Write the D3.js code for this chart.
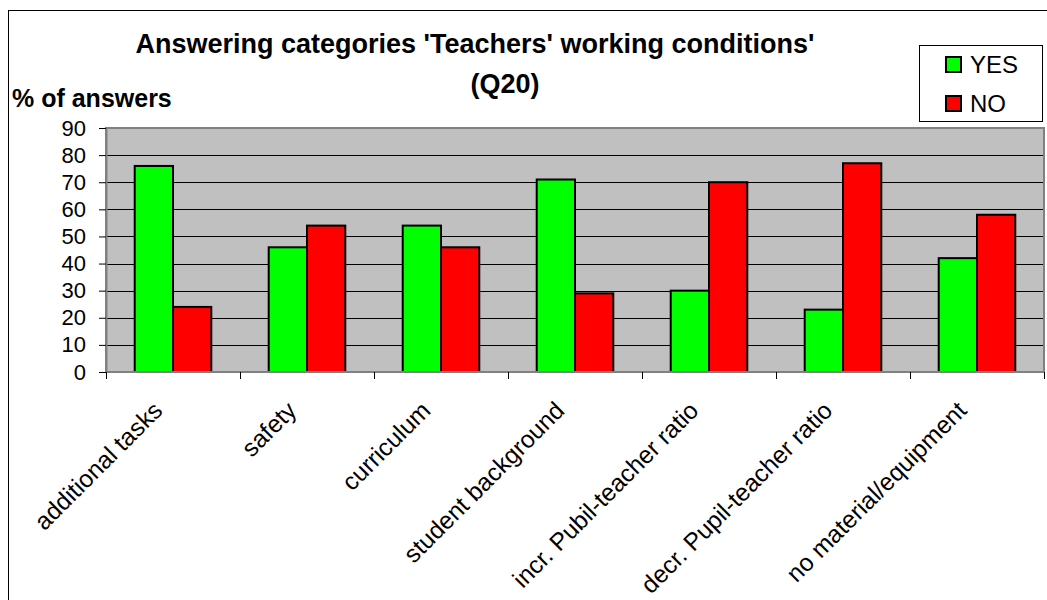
<!DOCTYPE html>
<html>
<head>
<meta charset="utf-8">
<script src="https://cdn.jsdelivr.net/npm/d3@7"></script>
<style>
  html, body { margin: 0; padding: 0; background: #fff; }
  svg { display: block; font-family: Arial, "Liberation Sans", sans-serif; }
</style>
</head>
<body>
<svg id="chart" width="1047" height="600"></svg>
<script>
// Answer categories on the x axis
const categories = [
  "additional tasks",
  "safety",
  "curriculum",
  "student background",
  "incr. Pubil-teacher ratio",
  "decr. Pupil-teacher ratio",
  "no material/equipment"
];
// Percentage of answers per category
const yesValues = [76, 46, 54, 71, 30, 23, 42];
const noValues  = [24, 54, 46, 29, 70, 77, 58];
const seriesNames = ["YES", "NO"];
const yTicks = [0, 10, 20, 30, 40, 50, 60, 70, 80, 90];

const svg = d3.select("#chart");
const W = 1047, H = 600;
const plot = { left: 106, right: 1044, top: 128, bottom: 372 };

// Outer chart frame (runs off the right and bottom edges)
svg.append("rect")
  .attr("x", 8.5).attr("y", 10.5)
  .attr("width", W + 20).attr("height", H + 20)
  .attr("fill", "#fff").attr("stroke", "#000").attr("stroke-width", 1);

const x0 = d3.scaleBand().domain(categories).range([plot.left, plot.right]).paddingInner(0).paddingOuter(0);
const x1 = d3.scaleBand().domain(seriesNames).range([0, x0.bandwidth()]).paddingInner(0).paddingOuter(0.75);
const y = d3.scaleLinear().domain([0, 90]).range([plot.bottom, plot.top]);
const color = d3.scaleOrdinal().domain(seriesNames).range(["#00ff00", "#ff0000"]);

// Plot background
svg.append("rect")
  .attr("x", plot.left).attr("y", plot.top)
  .attr("width", plot.right - plot.left).attr("height", plot.bottom - plot.top)
  .attr("fill", "#c0c0c0");

// Horizontal gridlines
svg.append("g").selectAll("line")
  .data(yTicks.filter(t => t > 0 && t < 90))
  .join("line")
  .attr("x1", plot.left).attr("x2", plot.right)
  .attr("y1", d => Math.round(y(d)) + 0.5).attr("y2", d => Math.round(y(d)) + 0.5)
  .attr("stroke", "#000").attr("stroke-width", 1);

// Plot border
svg.append("rect")
  .attr("x", plot.left).attr("y", plot.top)
  .attr("width", plot.right - plot.left).attr("height", plot.bottom - plot.top)
  .attr("fill", "none").attr("stroke", "#808080").attr("stroke-width", 2);

// Bars
const rows = categories.map((c, i) => ({ cat: c, values: [
  { key: "YES", value: yesValues[i] },
  { key: "NO", value: noValues[i] }
]}));

const groups = svg.append("g").selectAll("g")
  .data(rows).join("g")
  .attr("transform", d => `translate(${x0(d.cat)},0)`);

groups.selectAll("rect")
  .data(d => d.values).join("rect")
  .attr("x", d => x1(d.key))
  .attr("y", d => y(d.value))
  .attr("width", x1.bandwidth())
  .attr("height", d => y(0) - y(d.value))
  .attr("fill", d => color(d.key))
  .attr("stroke", "#000").attr("stroke-width", 2);

// Y axis
const yAxis = svg.append("g")
  .attr("transform", `translate(${plot.left},0)`)
  .call(d3.axisLeft(y).tickValues(yTicks).tickSize(7).tickPadding(13).tickSizeOuter(0));
yAxis.select(".domain").attr("stroke", "#808080").attr("stroke-width", 2);
yAxis.selectAll(".tick line").attr("stroke", "#000");
yAxis.selectAll(".tick text")
  .attr("font-size", 22).attr("fill", "#000")
  .attr("font-family", "Arial, 'Liberation Sans', sans-serif");

// X axis: ticks at category boundaries
const xAxisG = svg.append("g").attr("transform", `translate(0,${plot.bottom})`);
xAxisG.append("line")
  .attr("x1", plot.left).attr("x2", plot.right)
  .attr("stroke", "#808080").attr("stroke-width", 2);
const boundaries = categories.map(c => x0(c)).concat([x0(categories[categories.length - 1]) + x0.bandwidth()]);
xAxisG.selectAll("line.tk").data(boundaries).join("line")
  .attr("class", "tk")
  .attr("x1", d => Math.round(d) + 0.5).attr("x2", d => Math.round(d) + 0.5)
  .attr("y1", 0).attr("y2", 7)
  .attr("stroke", "#000");

xAxisG.selectAll("text").data(categories).join("text")
  .attr("transform", d => `translate(${x0(d) + x0.bandwidth() / 2 - 9},40) rotate(-45)`)
  .attr("text-anchor", "end")
  .attr("font-size", 24.5)
  .attr("fill", "#000")
  .text(d => d);

// Titles
svg.append("text")
  .attr("x", 475).attr("y", 53)
  .attr("text-anchor", "middle")
  .attr("font-size", 27).attr("font-weight", "bold")
  .text("Answering categories 'Teachers' working conditions'");
svg.append("text")
  .attr("x", 505).attr("y", 93)
  .attr("text-anchor", "middle")
  .attr("font-size", 27).attr("font-weight", "bold")
  .text("(Q20)");
svg.append("text")
  .attr("x", 12).attr("y", 107)
  .attr("font-size", 25).attr("font-weight", "bold")
  .text("% of answers");

// Legend
const legend = svg.append("g");
legend.append("rect")
  .attr("x", 919.5).attr("y", 45.5).attr("width", 123).attr("height", 76)
  .attr("fill", "#fff").attr("stroke", "#000").attr("stroke-width", 1);
const legendRowY = [73, 112];
seriesNames.forEach((s, i) => {
  legend.append("rect")
    .attr("x", 946).attr("y", legendRowY[i] - 16).attr("width", 15).attr("height", 15)
    .attr("fill", color(s)).attr("stroke", "#000").attr("stroke-width", 2);
  legend.append("text")
    .attr("x", 970).attr("y", legendRowY[i])
    .attr("font-size", 24).attr("fill", "#000")
    .text(s);
});
</script>
</body>
</html>
